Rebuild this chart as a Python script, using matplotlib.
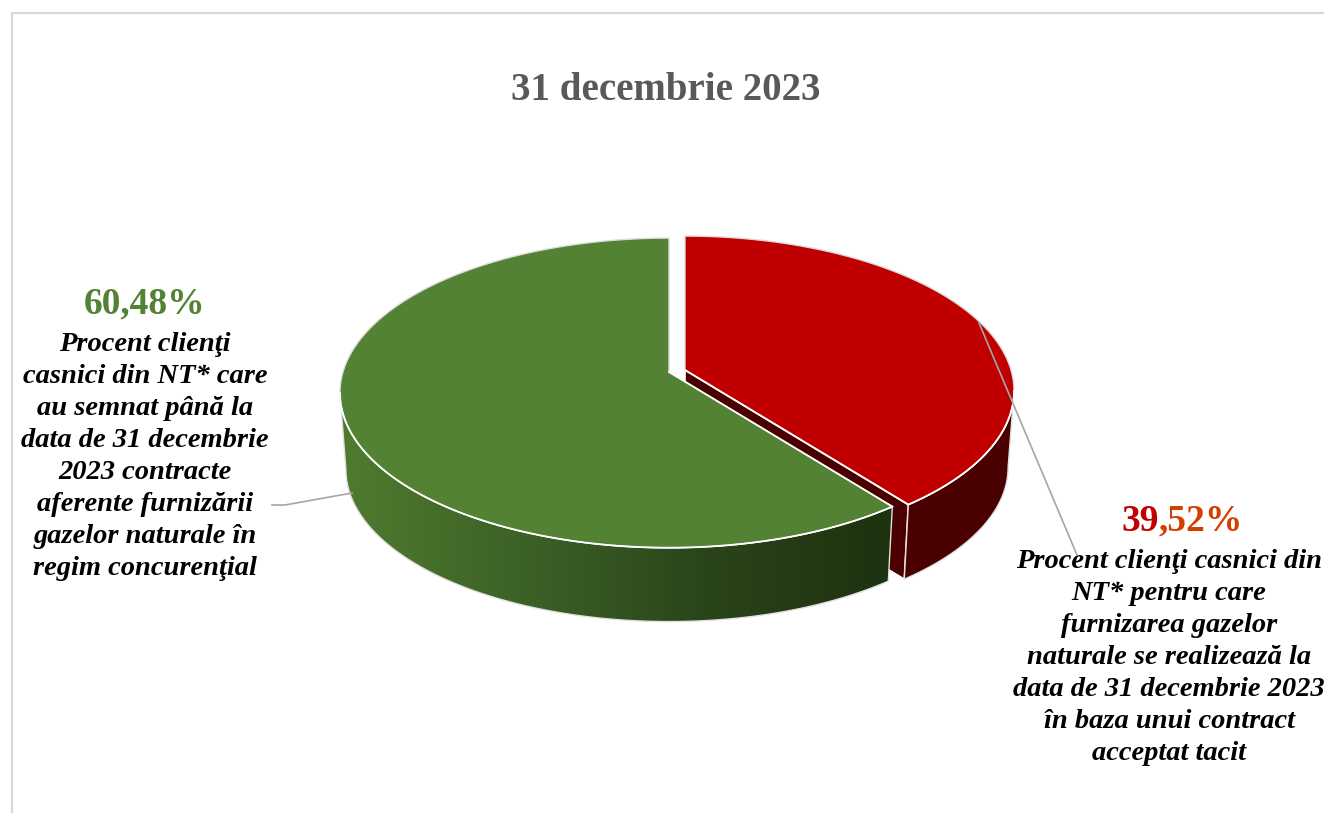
import numpy as np
import matplotlib
matplotlib.use('Agg')
import matplotlib.pyplot as plt
from matplotlib.patches import Polygon
from matplotlib.colors import LinearSegmentedColormap

titlu = '31 decembrie 2023'
procente = [39.52, 60.48]  # rosu, verde (sens orar de la ora 12)
text_rosu = ['Procent clienţi casnici din', 'NT* pentru care', 'furnizarea gazelor',
             'naturale se realizează la', 'data de 31 decembrie 2023',
             'în baza unui contract', 'acceptat tacit']
text_verde = ['Procent clienţi', 'casnici din NT* care', 'au semnat până la',
              'data de 31 decembrie', '2023 contracte', 'aferente furnizării',
              'gazelor naturale în', 'regim concurenţial']

plt.rcParams['font.family'] = ['Liberation Serif', 'DejaVu Serif']

fig = plt.figure(figsize=(13.24, 8.13), dpi=100)
ax = fig.add_axes([0, 0, 1, 1])
ax.set_xlim(0, 1324)
ax.set_ylim(813, 0)
ax.axis('off')

# cadrul graficului
ax.plot([12, 12, 1324], [813, 13, 13], color='#d9d9d9', lw=1.6)

# Proiectie cu perspectiva a discului
A, B, K = 326.0, 152.0, 0.135
DY, SC = 77.0, 0.982  # fata de jos
# unghiurile unde conturul discului e cel mai lat
SIL_D = np.degrees(np.arccos(-K))
SIL_S = 360 - SIL_D


def proiectie(unghi, cx, cy, jos=False):
    # unghi in grade, sens orar de la ora 12
    t = np.radians(unghi)
    w = 1 + K * np.cos(t)
    sc = SC if jos else 1.0
    px = cx + sc * A * np.sin(t) / w
    py = cy + (DY if jos else 0) - sc * B * np.cos(t) / w
    return np.column_stack([px, py])


capat = procente[0] / 100 * 360
rosu_c = (685.0, 370.0)
verde_c = (669.0, 372.0)
unghi_rosu = np.linspace(0, capat, 200)
unghi_verde = np.linspace(capat, 360, 300)

# partea rosie: fata taiata, peretele, capacul
marg = proiectie(unghi_rosu[-1:], *rosu_c)
marg_j = proiectie(unghi_rosu[-1:], *rosu_c, jos=True)
fata = np.vstack([[rosu_c], marg, marg_j, [[rosu_c[0], rosu_c[1] + DY]]])
ax.add_patch(Polygon(fata, fc='#4a0000', ec='white', lw=1.2, zorder=2))

vis_r = np.linspace(SIL_D, capat, 100)
perete_r = np.vstack([proiectie(vis_r, *rosu_c), proiectie(vis_r[::-1], *rosu_c, jos=True)])
ax.add_patch(Polygon(perete_r, fc='#4a0000', ec='#e0e0e0', lw=1.0, zorder=2))
cap_r = proiectie(unghi_rosu, *rosu_c)
ax.add_patch(Polygon(np.vstack([[rosu_c], cap_r]), fc='#c00000', ec='#dcdcdc', lw=1.0, zorder=3))
ax.plot(*proiectie(vis_r, *rosu_c).T, color='white', lw=1.3, zorder=3)
ax.plot(*np.vstack([[rosu_c], marg]).T, color='white', lw=1.3, zorder=3)

# partea verde: peretele cu gradient, capacul
vis_v = np.linspace(capat, SIL_S, 200)
perete_v = Polygon(np.vstack([proiectie(vis_v, *verde_c), proiectie(vis_v[::-1], *verde_c, jos=True)]),
                   fc='none', ec='#e0e0e0', lw=1.0, zorder=5)
ax.add_patch(perete_v)
grad = LinearSegmentedColormap.from_list('g', ['#507b2f', '#3c6126', '#2a441a', '#1d3210'])
img = ax.imshow(np.linspace(0, 1, 256).reshape(1, -1), cmap=grad, aspect='auto',
                extent=(340, 893, 813, 0), zorder=4)
img.set_clip_path(perete_v)
ax.set_xlim(0, 1324)
ax.set_ylim(813, 0)
cap_v = proiectie(unghi_verde, *verde_c)
ax.add_patch(Polygon(np.vstack([[verde_c], cap_v]), fc='#548235', ec='#dcdcdc', lw=1.0, zorder=6))
ax.plot(*proiectie(vis_v, *verde_c).T, color='white', lw=1.3, zorder=6)
ax.plot(*np.vstack([[verde_c], cap_v[:1]]).T, color='white', lw=1.3, zorder=6)

# linii de legatura
ax.plot([272, 285, 352], [505, 505, 493], color='#a6a6a6', lw=1.2, zorder=7)
ax.plot([979, 1077], [323, 555], color='#a6a6a6', lw=1.2, zorder=7)

# texte
ax.text(666, 90, titlu, ha='center', va='center', fontsize=28, fontweight='bold', color='#595959')

ax.text(145, 304, f'{procente[1]:.2f}%'.replace('.', ','), ha='center', va='center',
        fontsize=27, fontweight='bold', color='#548235')
for i, linie in enumerate(text_verde):
    ax.text(145, 344 + i * 32.1, linie, ha='center', va='center', fontsize=20.5,
            fontweight='bold', fontstyle='italic', color='black')

# 39 inchis, restul portocaliu, ca in original
val_r = f'{procente[0]:.2f}%'.replace('.', ',')
t1 = ax.text(1121, 521, val_r[:2], ha='left', va='center', fontsize=27, fontweight='bold', color='#c00000')
fig.canvas.draw()
bb = t1.get_window_extent()
ax.text(bb.x1 * 1324 / fig.bbox.width, 521, val_r[2:], ha='left', va='center', fontsize=27,
        fontweight='bold', color='#d43f00')
for i, linie in enumerate(text_rosu):
    ax.text(1169, 561 + i * 32.1, linie, ha='center', va='center', fontsize=20.5,
            fontweight='bold', fontstyle='italic', color='black')

fig.savefig('out.png', dpi=100, facecolor='white')
